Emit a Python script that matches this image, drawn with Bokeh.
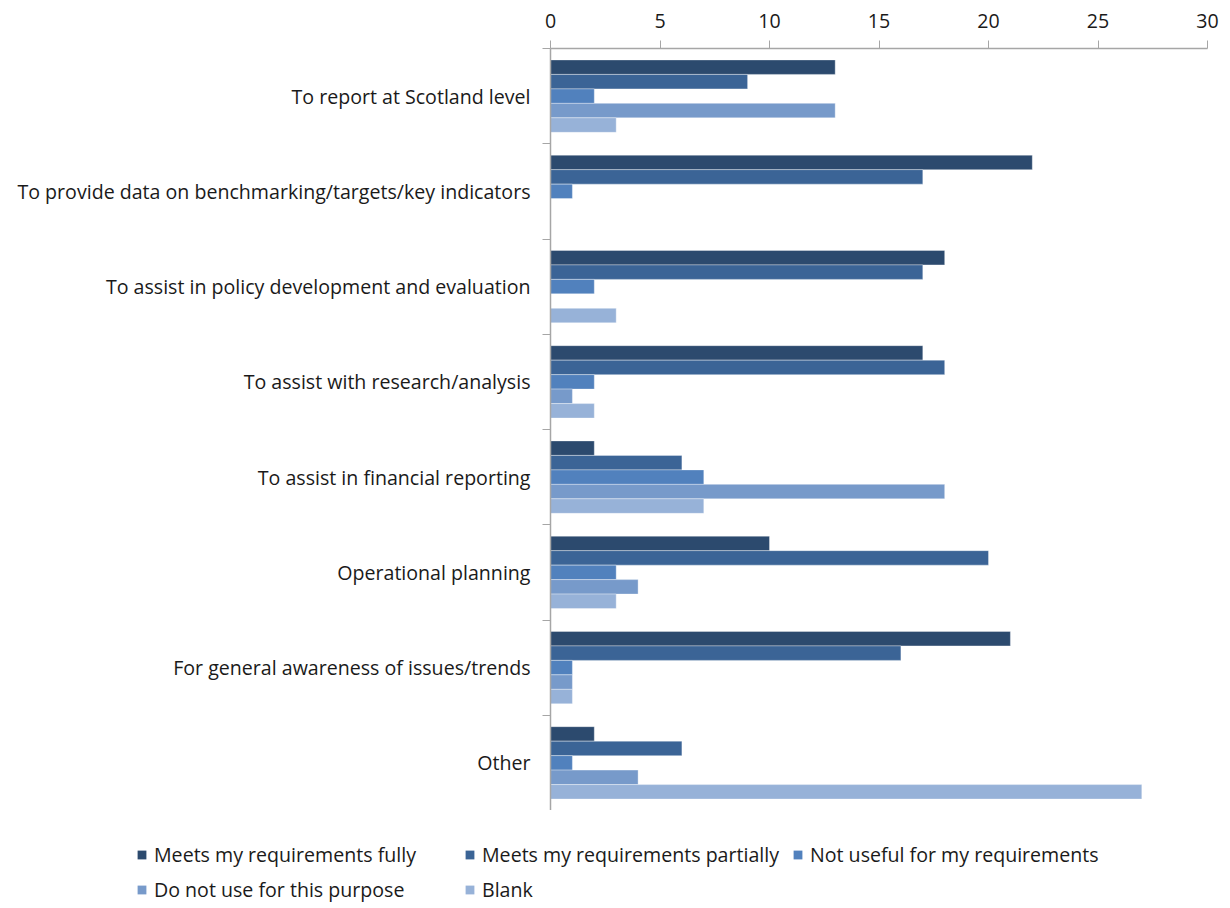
import numpy as np
from bokeh.plotting import figure
from bokeh.layouts import column, row
from bokeh.models import Range1d, FixedTicker, Legend, LegendItem, ColumnDataSource
from bokeh.embed import file_html
from bokeh.resources import INLINE

categories = [
    "To report at Scotland level",
    "To provide data on benchmarking/targets/key indicators",
    "To assist in policy development and evaluation",
    "To assist with research/analysis",
    "To assist in financial reporting",
    "Operational planning",
    "For general awareness of issues/trends",
    "Other",
]
series_names = [
    "Meets my requirements fully",
    "Meets my requirements partially",
    "Not useful for my requirements",
    "Do not use for this purpose",
    "Blank",
]
fully = [13, 22, 18, 17, 2, 10, 21, 2]
partially = [9, 17, 17, 18, 6, 20, 16, 6]
not_useful = [2, 1, 2, 2, 7, 3, 1, 1]
do_not_use = [13, 0, 0, 1, 18, 4, 1, 4]
blank = [3, 0, 3, 2, 7, 3, 1, 27]
x_ticks = [0, 5, 10, 15, 20, 25, 30]

series = [fully, partially, not_useful, do_not_use, blank]
colors = ["#2C4A6E", "#3B6496", "#5181BD", "#779ACA", "#97B2D8"]

FONT = "Open Sans"
FS = "19.6px"
W = 1225

n = len(categories)
p = figure(width=W, height=810, output_backend="svg", toolbar_location=None,
           x_range=Range1d(0, 30), y_range=Range1d(0, n), x_axis_location="above",
           min_border_left=550, min_border_right=W - 1207, min_border_top=48, min_border_bottom=0)
p.outline_line_color = None
p.xgrid.grid_line_color = None
p.ygrid.grid_line_color = None

centers = [n - i - 0.5 for i in range(n)]
bar_h = 0.152
renderers = []
for k, vals in enumerate(series):
    ys = [c + (2 - k) * bar_h for c in centers]
    src = ColumnDataSource(dict(y=ys, v=vals))
    r = p.hbar(y="y", left=0, right="v", height=bar_h, source=src,
               fill_color=colors[k], line_color="white", line_alpha=0.35, line_width=1)
    renderers.append(r)

ax = p.xaxis[0]
ax.ticker = FixedTicker(ticks=x_ticks)
ax.major_tick_out = 8
ax.major_tick_in = 0
ax.minor_tick_line_color = None
ax.axis_line_color = "#A6A6A6"
ax.major_tick_line_color = "#A6A6A6"
ax.axis_line_width = 1.5
ax.major_label_text_font = FONT
ax.major_label_text_font_size = FS
ax.major_label_text_color = "#1a1a1a"
ax.major_label_standoff = 13

ay = p.yaxis[0]
ay.ticker = FixedTicker(ticks=centers, minor_ticks=list(range(n + 1)))
ay.major_label_overrides = {c: categories[i] for i, c in enumerate(centers)}
ay.major_tick_line_color = None
ay.major_tick_out = 0
ay.major_tick_in = 0
ay.minor_tick_out = 8
ay.minor_tick_in = 0
ay.minor_tick_line_color = "#A6A6A6"
ay.axis_line_color = "#A6A6A6"
ay.axis_line_width = 1.5
ay.major_label_text_font = FONT
ay.major_label_text_font_size = FS
ay.major_label_text_color = "#1a1a1a"
ay.major_label_standoff = 12

# legend strip below the chart
p2 = figure(width=W, height=98, output_backend="svg", toolbar_location=None,
            x_range=Range1d(0, 1), y_range=Range1d(0, 1),
            x_axis_type=None, y_axis_type=None,
            min_border_left=136, min_border_right=0, min_border_top=27, min_border_bottom=0)
p2.outline_line_color = None
p2.xgrid.grid_line_color = None
p2.ygrid.grid_line_color = None
leg_renderers = []
for k in range(5):
    src = ColumnDataSource(dict(y=[5], v=[5]))
    r = p2.hbar(y="y", left=4, right="v", height=0.1, source=src,
                fill_color=colors[k], line_color=None)
    leg_renderers.append(r)

items = [LegendItem(label=series_names[k], renderers=[leg_renderers[k]]) for k in range(5)]
legend = Legend(items=items, orientation="horizontal", ncols=3, location="top_left",
                glyph_width=11, glyph_height=11, label_standoff=7,
                label_width=310, label_height=35, spacing=0, padding=0, margin=0,
                border_line_color=None, background_fill_alpha=0,
                label_text_font=FONT, label_text_font_size=FS, label_text_color="#1a1a1a")
p2.add_layout(legend, "center")

layout = column(p, row(p2, spacing=0), spacing=0)
open("out.html", "w").write(file_html(layout, INLINE))
